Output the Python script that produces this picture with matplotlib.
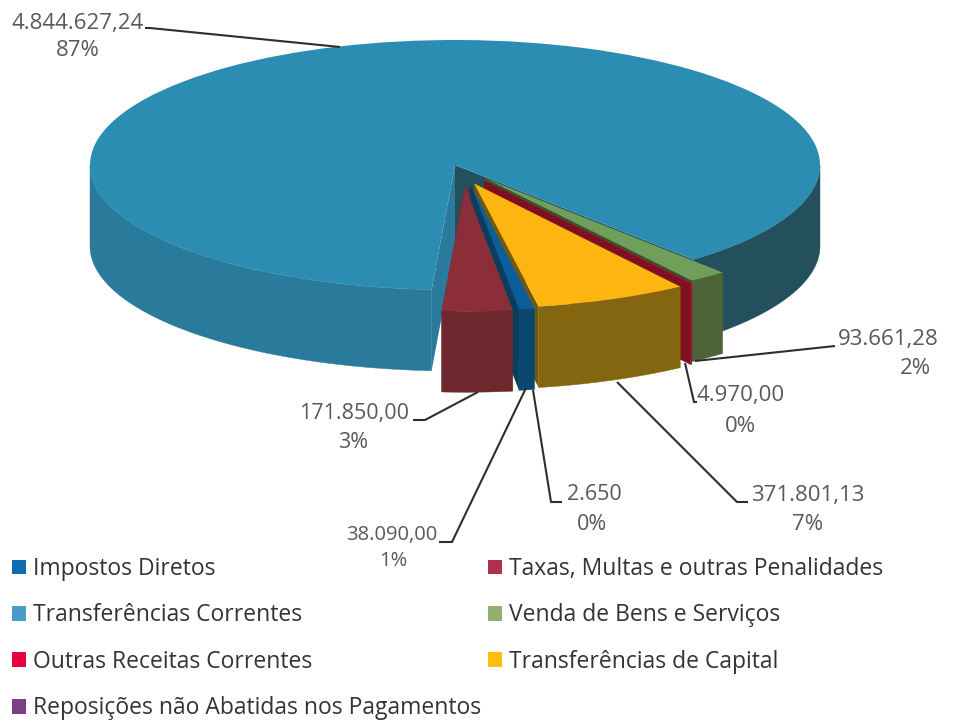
import numpy as np
import matplotlib
matplotlib.use("Agg")
import matplotlib.pyplot as plt
from matplotlib.patches import Patch

categories = ["Impostos Diretos", "Taxas, Multas e outras Penalidades", "Transferências Correntes",
              "Venda de Bens e Serviços", "Outras Receitas Correntes", "Transferências de Capital",
              "Reposições não Abatidas nos Pagamentos"]
values = [38090.00, 171850.00, 4844627.24, 93661.28, 4970.00, 371801.13, 2650.00]
value_labels = ["38.090,00", "171.850,00", "4.844.627,24", "93.661,28", "4.970,00", "371.801,13", "2.650"]
pct_labels = ["1%", "3%", "87%", "2%", "0%", "7%", "0%"]

top_colors = ["#0B5E9A", "#8C2E3A", "#2C8DB3", "#6F9F58", "#A5102C", "#FDB50F", "#7B3F85"]
wall_colors = ["#0A4870", "#6C282C", "#2A7B9B", "#4E6238", "#98122A", "#856610", "#5A3060"]
cut_colors = ["#083E60", "#5A2226", "#2A7B9B", "#3E5030", "#80101F", "#6E5A14", "#4A2850"]
legend_colors = ["#0F6CB0", "#B03050", "#4A9CC8", "#8FB070", "#E8003C", "#FFBE0F", "#7B3F85"]
main_dark = "#244F5C"
explode = [0.165, 0.17, 0.0, 0.13, 0.15, 0.16, 0.16]
nudge_px = [7, 8, 0, 0, -2, -3, 4]

W, H = 968, 722
CX, CY, RX, RY, DEPTH = 455, 165, 365, 125, 81
dz = DEPTH / RY

plt.rcParams["font.family"] = ["Open Sans", "DejaVu Sans"]
fig = plt.figure(figsize=(W / 100, H / 100), dpi=100, facecolor="white")
ax = fig.add_axes([0, 0, 1, 1])
wedges, _ = ax.pie(values, explode=explode, colors=top_colors, startangle=-80.0, counterclock=False,
                   radius=1, wedgeprops=dict(linewidth=0))
for w, n in zip(wedges, nudge_px):
    w.set_center((w.center[0] + n / RX, w.center[1]))
ax.set_aspect("auto")
ax.set_xlim(-CX / RX, (W - CX) / RX)
ax.set_ylim((CY - H) / RY, CY / RY)
ax.axis("off")

# drawing order: back to front on the open side of the pie
order = [2, 3, 4, 5, 6, 0, 1]
for rank, i in enumerate(order):
    w = wedges[i]
    cx, cy = w.center
    z = 10 + rank * 3
    th = np.linspace(w.theta1, w.theta2, 800)
    xs, ys = cx + np.cos(np.radians(th)), cy + np.sin(np.radians(th))
    # cut faces
    for edge in ([w.theta1, w.theta2] if i == 2 else [w.theta1]):
        ex, ey = cx + np.cos(np.radians(edge)), cy + np.sin(np.radians(edge))
        col = cut_colors[i]
        if i == 2 and np.cos(np.radians(edge)) > 0.3:
            col = main_dark
        ax.fill([cx, ex, ex, cx], [cy, ey, ey - dz, cy - dz], color=col, lw=0, zorder=z)
    # outer wall, only the part facing the viewer
    vis = np.sin(np.radians(th)) < 0
    idx = np.where(vis)[0]
    for seg in np.split(idx, np.where(np.diff(idx) > 1)[0] + 1):
        if len(seg) == 0:
            continue
        sx, sy = xs[seg], ys[seg]
        col = wall_colors[i]
        if i == 2 and sx.mean() > 0:
            col = main_dark
        ax.fill(np.r_[sx, sx[::-1]], np.r_[sy, sy[::-1] - dz], color=col, lw=0.3, zorder=z + 1)
    w.set_zorder(z + 2)

# overlay in picture pixels for labels, leaders and legend
ov = fig.add_axes([0, 0, 1, 1], facecolor="none")
ov.set_xlim(0, W)
ov.set_ylim(H, 0)
ov.axis("off")

label_pos = {2: ((78, 23), (78, 51), 16), 3: ((888, 339), (915, 368), 16), 4: ((741, 396), (740, 426), 16),
             5: ((808, 496), (808, 524), 16), 6: ((594, 495), (592, 524), 15.5), 0: ((392, 535), (393, 561), 14.5),
             1: ((354, 413), (353, 442), 15.5)}
leaders = {2: [(145, 28), (150, 28), (340, 47)], 3: [(695, 361), (835, 346)], 4: [(685, 363), (694, 402), (697, 402)],
           5: [(617, 382), (737, 502), (748, 502)], 6: [(533, 390), (551, 502), (562, 502)],
           0: [(526, 388), (452, 542), (439, 542)], 1: [(478, 392), (425, 420), (413, 420)]}
for i, (p1, p2, fs) in label_pos.items():
    ov.text(*p1, value_labels[i], ha="center", va="center", fontsize=fs, color="#595959")
    ov.text(*p2, pct_labels[i], ha="center", va="center", fontsize=fs, color="#595959")
    pts = np.array(leaders[i])
    ov.plot(pts[:, 0], pts[:, 1], color="#2E2E2E", lw=1.5, solid_capstyle="butt")

handles = [Patch(facecolor=c, edgecolor="none") for c in legend_colors]
ov.legend(handles[::2] + handles[1::2], categories[::2] + categories[1::2], ncol=2, frameon=False,
          loc="upper left", bbox_to_anchor=(12 / W, 1 - 557 / H), borderpad=0, borderaxespad=0,
          fontsize=16.5, labelcolor="#333333", handlelength=0.62, handleheight=0.62, handletextpad=0.31,
          labelspacing=0.98, columnspacing=0.27)

fig.savefig("out.png", dpi=100)
